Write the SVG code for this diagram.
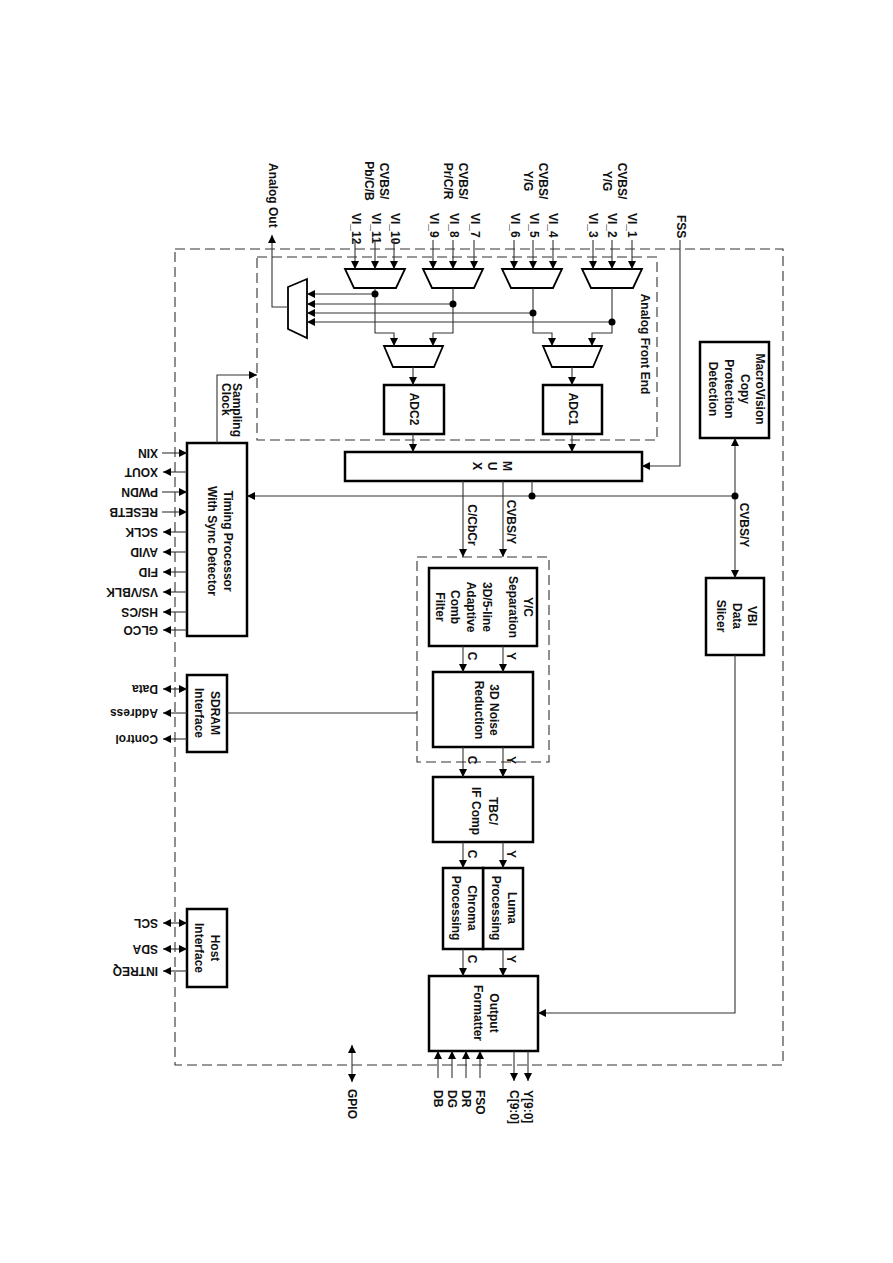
<svg xmlns="http://www.w3.org/2000/svg" width="893" height="1263" viewBox="0 0 893 1263">
<style>
text{font-family:"Liberation Sans",Arial,sans-serif;font-weight:bold;font-size:12px;fill:#111;dominant-baseline:central}
.box{fill:#fff;stroke:#000;stroke-width:2.5}
.mux{fill:#fff;stroke:#000;stroke-width:1.8}
.dash{fill:none;stroke:#333;stroke-width:1.1;stroke-dasharray:10,5}
.ln{fill:none;stroke:#333;stroke-width:1.1}
.a{marker-end:url(#arr)}
.b{marker-end:url(#arr);marker-start:url(#arr)}
.dot{fill:#000}
</style>
<defs>
<marker id="arr" markerUnits="userSpaceOnUse" markerWidth="9" markerHeight="8" refX="8" refY="4" orient="auto-start-reverse"><path d="M0,0 L8,4 L0,8 z" fill="#000"/></marker>
</defs>
<rect width="893" height="1263" fill="#fff"/>

<g id="frames">
<rect class="dash" x="175" y="249" width="608" height="816"/>
<rect class="dash" x="257" y="257" width="400" height="183"/>
<rect class="dash" x="417" y="557" width="132" height="205"/>
<text transform="translate(645,344) rotate(90)" text-anchor="middle">Analog Front End</text>
</g>

<g id="inputs">
<text transform="translate(622,181) rotate(90)" text-anchor="middle">CVBS/<tspan x="0" dy="15">Y/G</tspan></text>
<text transform="translate(543,181) rotate(90)" text-anchor="middle">CVBS/<tspan x="0" dy="15">Y/G</tspan></text>
<text transform="translate(463,181) rotate(90)" text-anchor="middle">CVBS/<tspan x="0" dy="15">Pr/C/R</tspan></text>
<text transform="translate(384,181) rotate(90)" text-anchor="middle">CVBS/<tspan x="0" dy="15">Pb/C/B</tspan></text>
<text transform="translate(632,213) rotate(90)">VI_1</text>
<text transform="translate(612,213) rotate(90)">VI_2</text>
<text transform="translate(593,213) rotate(90)">VI_3</text>
<text transform="translate(553,213) rotate(90)">VI_4</text>
<text transform="translate(534,213) rotate(90)">VI_5</text>
<text transform="translate(515,213) rotate(90)">VI_6</text>
<text transform="translate(475,213) rotate(90)">VI_7</text>
<text transform="translate(454,213) rotate(90)">VI_8</text>
<text transform="translate(434,213) rotate(90)">VI_9</text>
<text transform="translate(395,213) rotate(90)">VI_10</text>
<text transform="translate(376,213) rotate(90)">VI_11</text>
<text transform="translate(356,213) rotate(90)">VI_12</text>
<text transform="translate(273,163) rotate(90)">Analog Out</text>
<text transform="translate(681,215) rotate(90)">FSS</text>
</g>

<g id="input-muxes">
<polygon class="mux" points="582,269 642,269 633,288 591,288"/>
<polygon class="mux" points="502,269 562,269 553,288 511,288"/>
<polygon class="mux" points="423,269 483,269 474,288 432,288"/>
<polygon class="mux" points="345,269 405,269 396,288 354,288"/>
<polygon class="mux" points="288,287 307,279 307,338 288,329"/>
<polygon class="mux" points="384,346 443,346 434,367 393,367"/>
<polygon class="mux" points="543,346 602,346 593,367 552,367"/>
</g>

<g id="adc1"><rect class="box" x="543" y="385" width="59" height="49"/><text transform="translate(573,409) rotate(90)" text-anchor="middle">ADC1</text></g>
<g id="adc2"><rect class="box" x="384" y="385" width="60" height="49"/><text transform="translate(414,409) rotate(90)" text-anchor="middle">ADC2</text></g>

<g id="mux"><rect class="box" x="345" y="452" width="297" height="29"/><text transform="translate(507,466) rotate(90)" text-anchor="middle">M<tspan x="0" dy="15">U</tspan><tspan x="0" dy="15">X</tspan></text></g>

<g id="macrovision"><rect class="box" x="700" y="342" width="69" height="96"/><text transform="translate(760,389) rotate(90)" text-anchor="middle">MacroVision<tspan x="0" dy="15">Copy</tspan><tspan x="0" dy="16">Protection</tspan><tspan x="0" dy="16">Detection</tspan></text></g>

<g id="vbi"><rect class="box" x="706" y="578" width="58" height="77"/><text transform="translate(752,616) rotate(90)" text-anchor="middle">VBI<tspan x="0" dy="15">Data</tspan><tspan x="0" dy="16">Slicer</tspan></text></g>

<g id="timing"><rect class="box" x="187" y="443" width="60" height="193"/><text transform="translate(228,541) rotate(90)" text-anchor="middle">Timing Processor<tspan x="0" dy="16">With Sync Detector</tspan></text></g>

<g id="sdram"><rect class="box" x="187" y="675" width="40" height="77"/><text transform="translate(215,713) rotate(90)" text-anchor="middle">SDRAM<tspan x="0" dy="16">Interface</tspan></text></g>

<g id="host"><rect class="box" x="187" y="909" width="40" height="78"/><text transform="translate(215,948) rotate(90)" text-anchor="middle">Host<tspan x="0" dy="16">Interface</tspan></text></g>

<g id="yc"><rect class="box" x="429" y="568" width="108" height="78"/>
<text transform="translate(528,607) rotate(90)" text-anchor="middle">Y/C</text>
<text transform="translate(513,607) rotate(90)" text-anchor="middle">Separation</text>
<text transform="translate(487,607) rotate(90)" text-anchor="middle">3D/5-line</text>
<text transform="translate(471,607) rotate(90)" text-anchor="middle">Adaptive</text>
<text transform="translate(455,607) rotate(90)" text-anchor="middle">Comb</text>
<text transform="translate(440,607) rotate(90)" text-anchor="middle">Filter</text>
</g>

<g id="nr"><rect class="box" x="433" y="672" width="100" height="75"/><text transform="translate(494,710) rotate(90)" text-anchor="middle">3D Noise<tspan x="0" dy="15">Reduction</tspan></text></g>

<g id="tbc"><rect class="box" x="433" y="777" width="100" height="65"/><text transform="translate(493,811) rotate(90)" text-anchor="middle">TBC/<tspan x="0" dy="17">IF Comp</tspan></text></g>

<g id="luma"><rect class="box" x="483" y="868" width="40" height="81"/><text transform="translate(512,908) rotate(90)" text-anchor="middle">Luma<tspan x="0" dy="16">Processing</tspan></text></g>
<g id="chroma"><rect class="box" x="443" y="868" width="40" height="81"/><text transform="translate(472,908) rotate(90)" text-anchor="middle">Chroma<tspan x="0" dy="16">Processing</tspan></text></g>

<g id="formatter"><rect class="box" x="429" y="976" width="109" height="75"/><text transform="translate(494,1013) rotate(90)" text-anchor="middle">Output<tspan x="0" dy="16">Formatter</tspan></text></g>

<g id="connectors">
<path class="ln a" d="M632,240 V269"/><path class="ln a" d="M612,240 V269"/><path class="ln a" d="M593,240 V269"/>
<path class="ln a" d="M553,240 V269"/><path class="ln a" d="M533,240 V269"/><path class="ln a" d="M514,240 V269"/>
<path class="ln a" d="M474,240 V269"/><path class="ln a" d="M453,240 V269"/><path class="ln a" d="M433,240 V269"/>
<path class="ln a" d="M394,240 V269"/><path class="ln a" d="M375,240 V269"/><path class="ln a" d="M355,240 V269"/>
<path class="ln a" d="M375,288 V333 H394 V346"/>
<path class="ln a" d="M453,288 V333 H433 V346"/>
<path class="ln a" d="M533,288 V333 H552 V346"/>
<path class="ln a" d="M612,288 V333 H592 V346"/>
<path class="ln a" d="M375,294 H307"/>
<path class="ln a" d="M453,304 H307"/>
<path class="ln a" d="M533,313 H307"/>
<path class="ln a" d="M612,322 H307"/>
<circle class="dot" cx="375" cy="294" r="3.5"/>
<circle class="dot" cx="453" cy="304" r="3.5"/>
<circle class="dot" cx="533" cy="313" r="3.5"/>
<circle class="dot" cx="612" cy="322" r="3.5"/>
<path class="ln a" d="M288,307 H272 V235"/>
<path class="ln a" d="M413,367 V385"/><path class="ln a" d="M572,367 V385"/>
<path class="ln a" d="M413,434 V452"/><path class="ln a" d="M572,434 V452"/>
<path class="ln a" d="M680,240 V466 H642"/>
<path class="ln" d="M532,481 V496"/>
<path class="ln a" d="M735,496 H247"/>
<circle class="dot" cx="532" cy="496" r="3.5"/>
<path class="ln a" d="M735,496 V438"/>
<path class="ln a" d="M735,496 V578"/>
<circle class="dot" cx="735" cy="496" r="3.5"/>
<text transform="translate(744,525) rotate(90)" text-anchor="middle">CVBS/Y</text>
<path class="ln a" d="M735,655 V1013 H538"/>
<path class="ln a" d="M463,481 V557"/><path class="ln a" d="M503,481 V557"/>
<text transform="translate(511,522) rotate(90)" text-anchor="middle">CVBS/Y</text>
<text transform="translate(472,525) rotate(90)" text-anchor="middle">C/CbCr</text>
<path class="ln a" d="M463,646 V672"/><path class="ln a" d="M503,646 V672"/>
<path class="ln a" d="M463,747 V777"/><path class="ln a" d="M503,747 V777"/>
<path class="ln a" d="M463,842 V868"/><path class="ln a" d="M503,842 V868"/>
<path class="ln a" d="M463,949 V976"/><path class="ln a" d="M503,949 V976"/>
<text transform="translate(472,656) rotate(90)" text-anchor="middle">C</text><text transform="translate(511,656) rotate(90)" text-anchor="middle">Y</text>
<text transform="translate(472,760) rotate(90)" text-anchor="middle">C</text><text transform="translate(511,760) rotate(90)" text-anchor="middle">Y</text>
<text transform="translate(472,854) rotate(90)" text-anchor="middle">C</text><text transform="translate(511,854) rotate(90)" text-anchor="middle">Y</text>
<text transform="translate(472,959) rotate(90)" text-anchor="middle">C</text><text transform="translate(511,959) rotate(90)" text-anchor="middle">Y</text>
<path class="ln a" d="M438,1078 V1051"/><path class="ln a" d="M452,1078 V1051"/><path class="ln a" d="M466,1078 V1051"/><path class="ln a" d="M480,1078 V1051"/>
<path class="ln a" d="M514,1051 V1081"/><path class="ln a" d="M528,1051 V1081"/>
<text transform="translate(438,1090) rotate(90)">DB</text>
<text transform="translate(452,1090) rotate(90)">DG</text>
<text transform="translate(466,1090) rotate(90)">DR</text>
<text transform="translate(480,1090) rotate(90)">FSO</text>
<text transform="translate(514,1090) rotate(90)">C[9:0]</text>
<text transform="translate(528,1090) rotate(90)">Y[9:0]</text>
<path class="ln b" d="M352,1045 V1082"/>
<text transform="translate(352,1089) rotate(90)">GPIO</text>
<path class="ln a" d="M217,443 V375 H257"/>
<text transform="translate(237,383) rotate(90)">Sampling<tspan x="0" dy="11">Clock</tspan></text>
<path class="ln" d="M227,713 H417"/>
<path class="ln a" d="M162,453 H187"/>
<path class="ln a" d="M187,472 H163"/>
<path class="ln a" d="M162,492 H187"/>
<path class="ln a" d="M162,512 H187"/>
<path class="ln a" d="M187,532 H163"/>
<path class="ln a" d="M187,552 H163"/>
<path class="ln a" d="M187,572 H163"/>
<path class="ln a" d="M187,592 H163"/>
<path class="ln a" d="M187,612 H163"/>
<path class="ln a" d="M187,630 H163"/>
<path class="ln b" d="M163,689 H187"/>
<path class="ln a" d="M187,713 H163"/>
<path class="ln a" d="M187,739 H163"/>
<path class="ln b" d="M163,923 H187"/>
<path class="ln b" d="M163,949 H187"/>
<path class="ln a" d="M187,971 H163"/>
</g>

<g id="pin-labels">
<text transform="translate(158,453) rotate(180)">XIN</text>
<text transform="translate(158,472) rotate(180)">XOUT</text>
<text transform="translate(158,492) rotate(180)">PWDN</text>
<text transform="translate(158,512) rotate(180)">RESETB</text>
<text transform="translate(158,532) rotate(180)">SCLK</text>
<text transform="translate(158,552) rotate(180)">AVID</text>
<text transform="translate(158,572) rotate(180)">FID</text>
<text transform="translate(158,592) rotate(180)">VS/VBLK</text>
<text transform="translate(158,612) rotate(180)">HS/CS</text>
<text transform="translate(158,630) rotate(180)">GLCO</text>
<text transform="translate(158,689) rotate(180)">Data</text>
<text transform="translate(158,713) rotate(180)">Address</text>
<text transform="translate(158,739) rotate(180)">Control</text>
<text transform="translate(158,923) rotate(180)">SCL</text>
<text transform="translate(158,949) rotate(180)">SDA</text>
<text transform="translate(158,971) rotate(180)">INTREQ</text>
</g>
</svg>
